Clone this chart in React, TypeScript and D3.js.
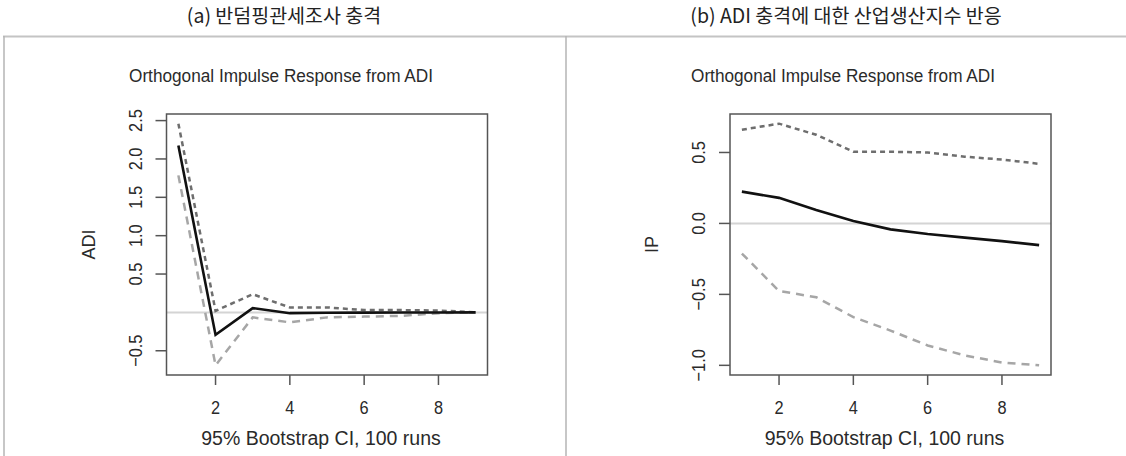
import React from 'react';
import * as d3 from 'd3';

// horizons
const horizons = [1, 2, 3, 4, 5, 6, 7, 8, 9];

// (a) ADI shock -> ADI
const adiIrf = [2.174, -0.293, 0.056, -0.01, -0.004, -0.003, -0.002, -0.001, 0];
const adiUpper = [2.46, 0.02, 0.237, 0.065, 0.065, 0.03, 0.03, 0.025, 0];
const adiLower = [1.786, -0.69, -0.065, -0.13, -0.065, -0.055, -0.045, -0.01, 0];

// (b) ADI shock -> IP
const ipIrf = [0.224, 0.18, 0.094, 0.017, -0.042, -0.075, -0.1, -0.125, -0.153];
const ipUpper = [0.66, 0.703, 0.625, 0.505, 0.505, 0.5, 0.47, 0.45, 0.42];
const ipLower = [-0.212, -0.476, -0.52, -0.66, -0.755, -0.86, -0.93, -0.98, -1.0];

const xTicks = [2, 4, 6, 8];
const adiTicks = [-0.5, 0.5, 1.0, 1.5, 2.0, 2.5];
const ipTicks = [-1.0, -0.5, 0.0, 0.5];

const headers = ['(a) 반덤핑관세조사 충격', '(b) ADI 충격에 대한 산업생산지수 반응'];
const plotTitle = 'Orthogonal Impulse Response from ADI';
const xLabel = '95% Bootstrap CI, 100 runs';

const font = '"Liberation Sans", Arial, sans-serif';
const ink = '#2a2a2a';

const fmt = (t) => (t < 0 ? '\u2212' + Math.abs(t).toFixed(1) : t.toFixed(1));

// narrow, tall text like the source image
function Txt({ x, y, rot = 0, size = 18, sx = 0.86, children }) {
  return (
    <text
      transform={`translate(${x},${y}) rotate(${rot}) scale(${sx},1)`}
      textAnchor="middle"
      fontFamily={font}
      fontSize={size}
      fill={ink}
    >
      {children}
    </text>
  );
}

function Panel({ left, irf, upper, lower, yTicks, yLabel, figCenter }) {
  const box = { x0: left, x1: left + 321, y0: 114, y1: 375 };
  // R-style 4% padding on both axes
  const xs = d3.scaleLinear().domain([1 - 0.32, 9 + 0.32]).range([box.x0, box.x1]);
  const all = [...irf, ...upper, ...lower];
  const lo = d3.min(all), hi = d3.max(all);
  const pad = (hi - lo) * 0.04;
  const ys = d3.scaleLinear().domain([lo - pad, hi + pad]).range([box.y1, box.y0]);
  const line = (vals) => d3.line().x((d, i) => xs(horizons[i])).y(d => ys(d))(vals);
  const cx = (box.x0 + box.x1) / 2;
  const cy = (box.y0 + box.y1) / 2;
  return (
    <g>
      <Txt x={figCenter} y={82} size={18.5} sx={0.93}>{plotTitle}</Txt>
      <line x1={box.x0} x2={box.x1} y1={ys(0)} y2={ys(0)} stroke="#d4d4d4" strokeWidth={2} />
      <path d={line(upper)} fill="none" stroke="#6e6e6e" strokeWidth={2.5} strokeDasharray="5 4" />
      <path d={line(lower)} fill="none" stroke="#a6a6a6" strokeWidth={2.5} strokeDasharray="8 6" />
      <path d={line(irf)} fill="none" stroke="#111" strokeWidth={2.6} />
      <rect x={box.x0} y={box.y0} width={box.x1 - box.x0} height={box.y1 - box.y0} fill="none" stroke="#555" strokeWidth={1.5} />
      {xTicks.map(t => (
        <g key={t}>
          <line x1={xs(t)} x2={xs(t)} y1={box.y1} y2={box.y1 + 10} stroke="#555" strokeWidth={1.5} />
          <Txt x={xs(t)} y={414} size={19}>{t}</Txt>
        </g>
      ))}
      {yTicks.map(t => (
        <g key={t}>
          <line x1={box.x0 - 11} x2={box.x0} y1={ys(t)} y2={ys(t)} stroke="#555" strokeWidth={1.5} />
          <Txt x={box.x0 - 25} y={ys(t)} rot={-90} size={19}>{fmt(t)}</Txt>
        </g>
      ))}
      <Txt x={cx - 6} y={445} size={19.5} sx={1.0}>{xLabel}</Txt>
      <Txt x={box.x0 - 72} y={cy} rot={-90} size={19} sx={0.95}>{yLabel}</Txt>
    </g>
  );
}

export default function App() {
  return (
    <svg width={1126} height={456} style={{ position: 'absolute', left: 0, top: 0, background: '#fff' }}>
      <rect width={1126} height={456} fill="#fff" />
      <text x={284} y={23} textAnchor="middle" fontFamily='"Noto Sans CJK KR", sans-serif' fontSize={19.5} fill="#222">{headers[0]}</text>
      <text x={846} y={23} textAnchor="middle" fontFamily='"Noto Sans CJK KR", sans-serif' fontSize={19.5} fill="#222">{headers[1]}</text>
      <line x1={3} x2={1126} y1={36.5} y2={36.5} stroke="#c4c4c4" strokeWidth={2} />
      <line x1={4} x2={4} y1={36} y2={456} stroke="#b4b4b4" strokeWidth={1.5} />
      <line x1={566} x2={566} y1={36} y2={456} stroke="#b4b4b4" strokeWidth={1.5} />
      <Panel left={166.5} figCenter={281} irf={adiIrf} upper={adiUpper} lower={adiLower} yTicks={adiTicks} yLabel="ADI" />
      <Panel left={730} figCenter={843} irf={ipIrf} upper={ipUpper} lower={ipLower} yTicks={ipTicks} yLabel="IP" />
    </svg>
  );
}
